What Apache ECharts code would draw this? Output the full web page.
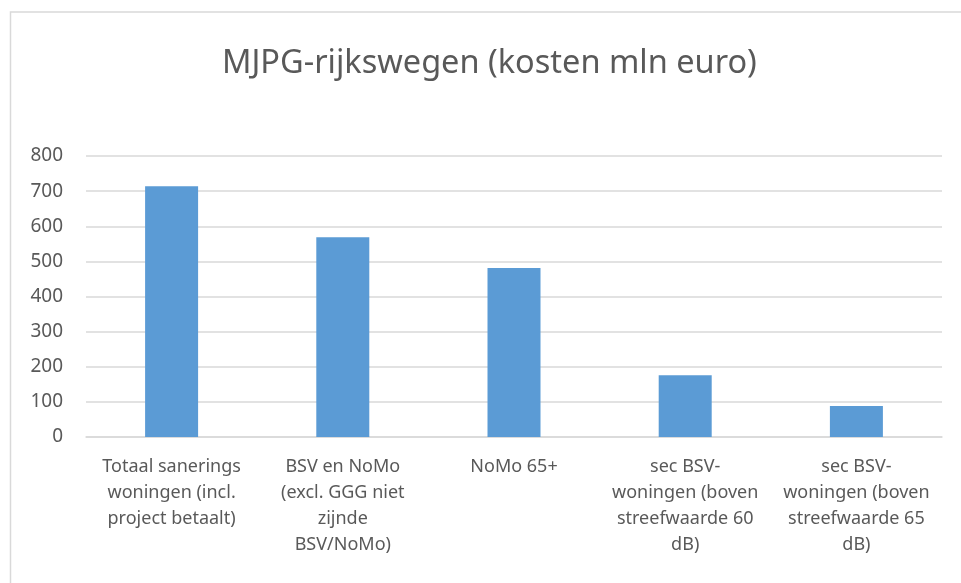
<!DOCTYPE html>
<html>
<head>
<meta charset="utf-8">
<script src="https://cdn.jsdelivr.net/npm/echarts@6/dist/echarts.min.js"></script>
<style>
  html, body { margin: 0; padding: 0; background: #fff; }
  #chart { width: 961px; height: 583px; }
</style>
</head>
<body>
<div id="chart"></div>
<script>
  // categories (line breaks as in the original labels)
  var categories = [
    'Totaal sanerings\nwoningen (incl.\nproject betaalt)',
    'BSV en NoMo\n(excl. GGG niet\nzijnde\nBSV/NoMo)',
    'NoMo 65+',
    'sec BSV-\nwoningen (boven\nstreefwaarde 60\ndB)',
    'sec BSV-\nwoningen (boven\nstreefwaarde 65\ndB)'
  ]
  var kosten = [714, 569, 481, 176, 88]

  var textColor = '#595959'
  var lineColor = '#d9d9d9'

  var chart = echarts.init(document.getElementById('chart'))
  chart.setOption({
    animation: false,
    backgroundColor: '#fff',
    title: {
      text: 'MJPG-rijkswegen (kosten mln euro)',
      left: 217,
      top: 42,
      textStyle: {
        fontFamily: 'Noto Sans',
        fontSize: 32.5,
        fontWeight: 'normal',
        color: textColor
      }
    },
    graphic: [{
      type: 'rect',
      shape: {x: 10.5, y: 12, width: 1000, height: 700},
      style: {fill: 'none', stroke: lineColor, lineWidth: 1.5},
      silent: true
    }],
    grid: {
      left: 86,
      right: 19,
      top: 156,
      bottom: 146
    },
    xAxis: {
      type: 'category',
      data: categories,
      axisTick: {show: false},
      axisLine: {lineStyle: {color: lineColor, width: 1.5}},
      axisLabel: {
        interval: 0,
        hideOverlap: false,
        margin: 17,
        color: textColor,
        fontFamily: 'Noto Sans',
        fontSize: 18,
        lineHeight: 26
      }
    },
    yAxis: {
      type: 'value',
      min: 0,
      max: 800,
      interval: 100,
      axisLine: {show: false},
      axisTick: {show: false},
      splitLine: {lineStyle: {color: lineColor, width: 1.5}},
      axisLabel: {
        margin: 23,
        color: textColor,
        fontFamily: 'Noto Sans',
        fontSize: 19
      }
    },
    series: [{
      type: 'bar',
      data: kosten,
      barWidth: 53,
      itemStyle: {color: '#5b9bd5'}
    }]
  })
</script>
</body>
</html>
